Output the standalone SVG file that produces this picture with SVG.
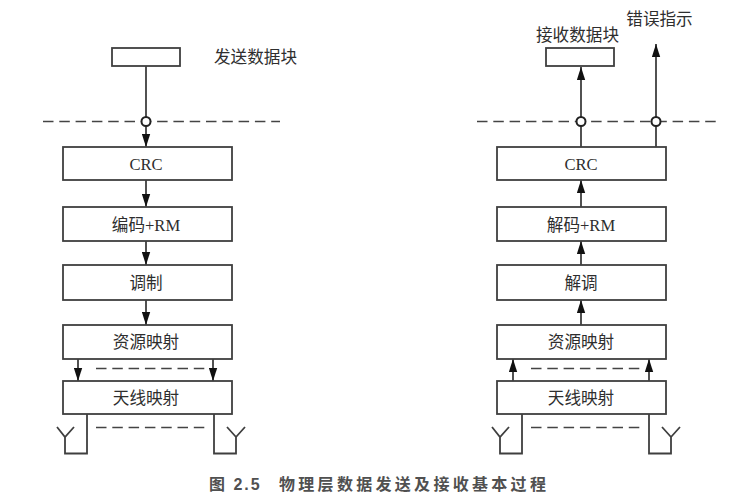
<svg xmlns="http://www.w3.org/2000/svg" width="730" height="503" viewBox="0 0 730 503">
<style>
.b{fill:#fff;stroke:#3f3f3f;stroke-width:1.8}
.l{fill:none;stroke:#3f3f3f;stroke-width:1.8}
.d{fill:none;stroke:#444;stroke-width:1.5;stroke-dasharray:10.500 5.800}
.c{fill:#fff;stroke:#222;stroke-width:2}
.t{font-family:"Liberation Serif","Noto Sans CJK SC",serif;font-size:16.600px;fill:#2e2e2e;text-anchor:middle}
.cap{font-family:"Liberation Sans","Noto Sans CJK SC",sans-serif;font-size:16px;font-weight:700;fill:#505050}
</style>
<defs>
<marker id="ah" viewBox="0 0 13 9" markerWidth="13" markerHeight="9" markerUnits="userSpaceOnUse" refX="13" refY="4.500" orient="auto"><path d="M0 0.300 L13 4.500 L0 8.700Z" fill="#111"/></marker>
</defs>

<g id="connectors">
<path class="d" d="M43 121.500H280"/>
<path class="d" d="M477 121.500H716"/>
<path class="l" marker-end="url(#ah)" d="M146 66V147"/>
<path class="l" marker-end="url(#ah)" d="M146 180V207"/>
<path class="l" marker-end="url(#ah)" d="M146 241V265"/>
<path class="l" marker-end="url(#ah)" d="M146 300V325"/>
<path class="l" marker-end="url(#ah)" d="M78 359V381"/>
<path class="l" marker-end="url(#ah)" d="M213 359V381"/>
<path class="d" d="M96 368.500H206"/>
<path class="d" d="M96 427.500H206"/>
<path class="l" d="M87 414V453.500H65V437M57 427L65 437L74 427"/>
<path class="l" d="M214 414V453.500H236V437M227 427L236 437L245 427"/>
<path class="l" marker-end="url(#ah)" d="M581 147V67"/>
<path class="l" marker-end="url(#ah)" d="M656 147V44"/>
<path class="l" marker-end="url(#ah)" d="M581 207V180"/>
<path class="l" marker-end="url(#ah)" d="M581 265V241"/>
<path class="l" marker-end="url(#ah)" d="M581 325V300"/>
<path class="l" marker-end="url(#ah)" d="M513 381V359"/>
<path class="l" marker-end="url(#ah)" d="M649 381V359"/>
<path class="d" d="M531 368.500H641"/>
<path class="d" d="M531 427.500H641"/>
<path class="l" d="M522 414V453.500H500V437M492 427L500 437L509 427"/>
<path class="l" d="M649 414V453.500H671V437M662 427L671 437L680 427"/>
<circle class="c" cx="146" cy="121.500" r="4.500"/>
<circle class="c" cx="581" cy="121.500" r="4.500"/>
<circle class="c" cx="656" cy="121.500" r="4.500"/>
</g>

<g id="tx-block"><rect class="b" x="112" y="48" width="68" height="18"/></g>
<g id="tx-label"><text class="t" x="255.500" y="62.500">发送数据块</text></g>
<g id="tx-crc"><rect class="b" x="63" y="147" width="169" height="33"/><text class="t" x="146" y="170">CRC</text></g>
<g id="tx-coding"><rect class="b" x="63" y="207" width="169" height="34"/><text class="t" x="146" y="231">编码+RM</text></g>
<g id="tx-mod"><rect class="b" x="63" y="265" width="169" height="35"/><text class="t" x="146" y="288.500">调制</text></g>
<g id="tx-res"><rect class="b" x="63" y="325" width="169" height="34"/><text class="t" x="146" y="347.500">资源映射</text></g>
<g id="tx-ant"><rect class="b" x="63" y="381" width="169" height="33"/><text class="t" x="146" y="403.500">天线映射</text></g>

<g id="rx-block"><rect class="b" x="546" y="48" width="68" height="18"/></g>
<g id="rx-label"><text class="t" x="577.500" y="41">接收数据块</text></g>
<g id="err-label"><text class="t" x="659.500" y="24.500">错误指示</text></g>
<g id="rx-crc"><rect class="b" x="497" y="147" width="169" height="33"/><text class="t" x="581" y="170">CRC</text></g>
<g id="rx-coding"><rect class="b" x="497" y="207" width="169" height="34"/><text class="t" x="581" y="231">解码+RM</text></g>
<g id="rx-demod"><rect class="b" x="497" y="265" width="169" height="35"/><text class="t" x="581" y="288.500">解调</text></g>
<g id="rx-res"><rect class="b" x="497" y="325" width="169" height="34"/><text class="t" x="581" y="347.500">资源映射</text></g>
<g id="rx-ant"><rect class="b" x="497" y="381" width="169" height="33"/><text class="t" x="581" y="403.500">天线映射</text></g>

<g id="caption"><text class="cap" y="490"><tspan x="209" letter-spacing="2">图 2.5</tspan><tspan x="279" letter-spacing="3.300">物理层数据发送及接收基本过程</tspan></text></g>
</svg>
